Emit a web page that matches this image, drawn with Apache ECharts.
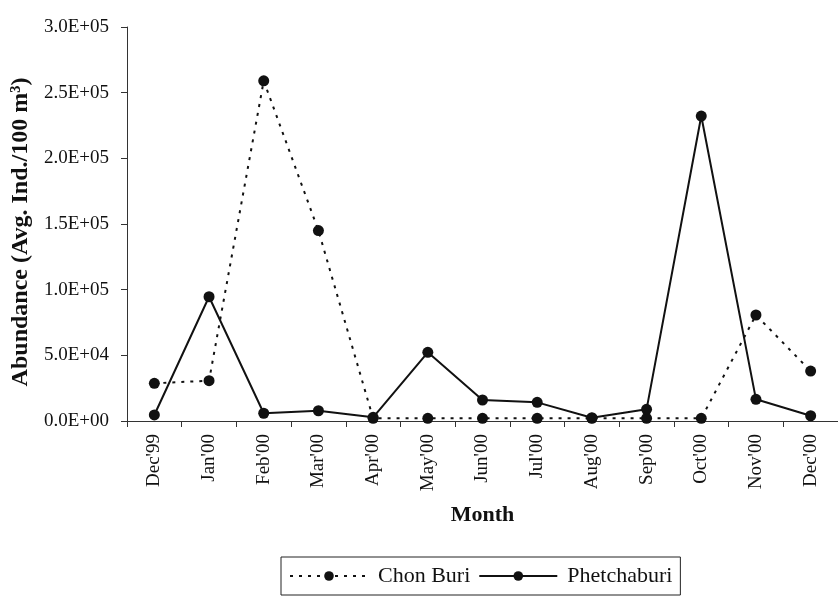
<!DOCTYPE html>
<html>
<head>
<meta charset="utf-8">
<script src="https://cdn.jsdelivr.net/npm/echarts@6/dist/echarts.min.js"></script>
<style>
  html, body { margin: 0; padding: 0; background: #ffffff; }
  #chart { width: 838px; height: 596px; }
</style>
</head>
<body>
<div id="chart"></div>
<script>
// Monthly abundance of larvae at two stations (Avg. Ind./100 m³)
const months = ["Dec'99", "Jan'00", "Feb'00", "Mar'00", "Apr'00", "May'00", "Jun'00",
                "Jul'00", "Aug'00", "Sep'00", "Oct'00", "Nov'00", "Dec'00"];
const chonBuri    = [28700, 30700, 259000, 145000, 2000, 2000, 2000, 2000, 2000, 2000, 2000, 80700, 38000];
const phetchaburi = [4600, 94600, 5900, 7800, 2800, 52300, 16000, 14200, 2500, 8900, 232200, 16500, 4000];
const seriesNames = ['Chon Buri', 'Phetchaburi'];
const yMin = 0, yMax = 300000, yStep = 50000;

const SERIF = '"Liberation Serif", "Times New Roman", serif';
const INK = '#111111';

// Scientific notation in the spreadsheet style: 2.5E+05
function sci(v) {
  const parts = v.toExponential(1).split('e');
  const exp = parseInt(parts[1], 10);
  const sign = exp < 0 ? '-' : '+';
  const digits = String(Math.abs(exp)).padStart(2, '0');
  return parts[0] + 'E' + sign + digits;
}

const chart = echarts.init(document.getElementById('chart'), null, { renderer: 'canvas' });

chart.setOption({
  backgroundColor: '#ffffff',
  animation: false,
  grid: { left: 127, top: 27, width: 718, bottom: 175, containLabel: false },
  xAxis: {
    type: 'category',
    data: months,
    boundaryGap: true,
    name: 'Month',
    nameLocation: 'middle',
    nameGap: 83,
    nameTextStyle: { fontFamily: SERIF, fontSize: 22, fontWeight: 'bold', color: INK },
    axisLine: { lineStyle: { color: '#333333', width: 1 } },
    axisTick: { show: true, length: 6, inside: false, lineStyle: { color: '#333333' } },
    axisLabel: { rotate: 90, margin: 13, fontFamily: SERIF, fontSize: 19, color: INK, interval: 0 },
    splitLine: { show: false }
  },
  yAxis: {
    type: 'value',
    min: yMin,
    max: yMax,
    interval: yStep,
    name: 'Abundance (Avg. Ind./100 m³)',
    nameLocation: 'middle',
    nameGap: 86,
    nameTextStyle: { fontFamily: SERIF, fontSize: 24, fontWeight: 'bold', color: INK, padding: [0, 16, 0, 0] },
    axisLine: { show: true, lineStyle: { color: '#333333', width: 1 } },
    axisTick: { show: true, length: 6, inside: false, lineStyle: { color: '#333333' } },
    axisLabel: { margin: 18, fontFamily: SERIF, fontSize: 19, color: INK, formatter: sci },
    splitLine: { show: false }
  },
  legend: {
    left: 281,
    top: 557,
    orient: 'horizontal',
    padding: [8, 8, 8, 8],
    itemGap: 8,
    itemWidth: 78,
    itemHeight: 12,
    borderColor: '#222222',
    borderWidth: 1,
    textStyle: { fontFamily: SERIF, fontSize: 22, color: INK, padding: [0, 0, 0, 5] },
    data: seriesNames
  },
  series: [
    {
      name: seriesNames[0],
      type: 'line',
      data: chonBuri,
      symbol: 'circle',
      symbolSize: 11,
      itemStyle: { color: INK },
      lineStyle: { color: INK, width: 2, type: [3, 6] },
      z: 2
    },
    {
      name: seriesNames[1],
      type: 'line',
      data: phetchaburi,
      symbol: 'circle',
      symbolSize: 11,
      itemStyle: { color: INK },
      lineStyle: { color: INK, width: 2, type: 'solid' },
      z: 3
    }
  ]
});
</script>
</body>
</html>
